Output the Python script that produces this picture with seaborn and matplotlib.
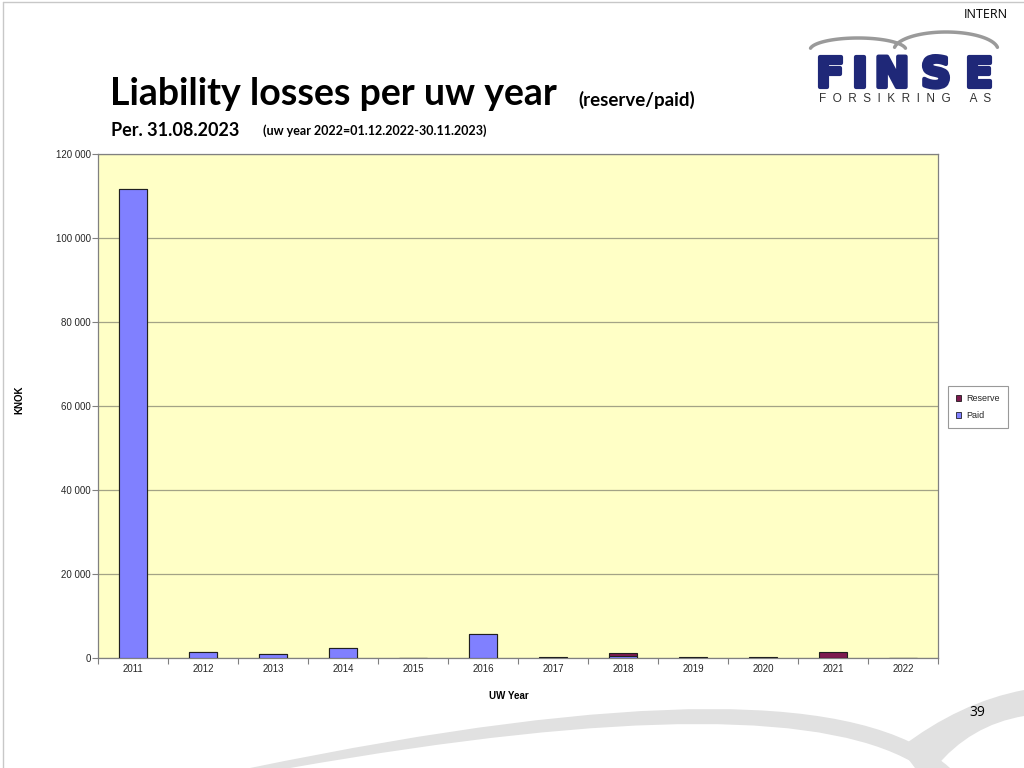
import numpy as np
import pandas as pd
import seaborn as sns
import matplotlib.pyplot as plt
import matplotlib.patheffects as pe
from matplotlib.patches import Patch, PathPatch
from matplotlib.path import Path
from matplotlib.ticker import FuncFormatter, MultipleLocator

# Data (KNOK)
years = ["2011", "2012", "2013", "2014", "2015", "2016",
         "2017", "2018", "2019", "2020", "2021", "2022"]
paid = [111700, 1400, 900, 2400, 100, 5700, 100, 500, 0, 0, 0, 0]
reserve = [0, 0, 0, 0, 0, 0, 150, 700, 300, 150, 1450, 100]

df = pd.DataFrame({"year": years, "paid": paid, "reserve": reserve})
df["total"] = df["paid"] + df["reserve"]

sns.set_theme(style="white")
plt.rcParams["font.family"] = ["Liberation Sans", "DejaVu Sans"]

W, H = 1024, 768
fig = plt.figure(figsize=(10.24, 7.68), dpi=100)


def fx(px):
    return px / W


def fy(py):
    return 1 - py / H


# decorative background swooshes (pixel coords converted to figure coords)
def swoosh(verts, codes):
    p = Path([(fx(a), fy(b)) for a, b in verts], codes)
    fig.add_artist(PathPatch(p, transform=fig.transFigure, facecolor="#E1E1E1",
                             edgecolor="none", zorder=0))


C3, L, M, CL = Path.CURVE3, Path.LINETO, Path.MOVETO, Path.CLOSEPOLY
swoosh([(250, 768), (820, 650), (950, 768), (922, 768), (790, 680), (290, 768), (250, 768)],
       [M, C3, C3, L, C3, C3, CL])
swoosh([(900, 748), (960, 702), (1024, 690), (1024, 716), (970, 725), (935, 768), (915, 768)],
       [M, C3, C3, L, C3, C3, L])

ax = fig.add_axes([fx(98), fy(658), fx(938) - fx(98), fy(154) - fy(658)])
ax.set_facecolor("#FFFFC6")

paid_col = "#8080FF"
res_col = "#7D1A4F"

# stacked: total in reserve colour, paid drawn over it
sns.barplot(data=df, x="year", y="total", color=res_col, width=0.4,
            edgecolor="#202020", linewidth=0.8, saturation=1, ax=ax, zorder=3)
sns.barplot(data=df, x="year", y="paid", color=paid_col, width=0.4,
            edgecolor="#202020", linewidth=0.8, saturation=1, ax=ax, zorder=4)

ax.set_ylim(0, 120000)
ax.set_xlim(-0.5, len(years) - 0.5)
ax.yaxis.set_major_locator(MultipleLocator(20000))
ax.yaxis.set_major_formatter(FuncFormatter(lambda v, p: f"{int(v):,}".replace(",", " ")))
ax.grid(axis="y", color="#A3A386", linewidth=0.9, zorder=0)
ax.set_axisbelow(True)

for s in ax.spines.values():
    s.set_color("#808080")
    s.set_linewidth(0.9)

ax.tick_params(axis="y", left=True, length=4, width=0.8, color="#808080",
               labelsize=7, pad=1)
ax.tick_params(axis="x", bottom=True, length=0, labelsize=7, pad=4)
ax.set_xticks(np.arange(-0.5, len(years), 1), minor=True)
ax.tick_params(axis="x", which="minor", bottom=True, length=4, width=0.8,
               color="#808080")

ax.set_xlabel("")
ax.set_ylabel("")
fig.text(fx(509), fy(696), "UW Year", ha="center", va="center", fontsize=7,
         fontweight="bold", color="black")
fig.text(fx(19), fy(400), "KNOK", ha="center", va="center", fontsize=7,
         fontweight="bold", rotation=90, color="black")

# legend outside on the right
handles = [Patch(facecolor=res_col, edgecolor="black", linewidth=0.5, label="Reserve"),
           Patch(facecolor=paid_col, edgecolor="black", linewidth=0.5, label="Paid")]
leg = fig.legend(handles=handles, loc="center", bbox_to_anchor=(fx(978), fy(407)),
                 fontsize=6.5, frameon=True, fancybox=False, handlelength=0.6,
                 handleheight=0.6, labelspacing=0.9, borderpad=0.55,
                 handletextpad=0.6, edgecolor="#808080")
leg.get_frame().set_linewidth(0.8)
leg.get_frame().set_boxstyle("square", pad=0.35)

# titles
tfont = ["Lato", "DejaVu Sans"]
fig.text(fx(110), fy(94), "Liability losses per uw year", fontsize=27,
         fontweight="bold", family=tfont, va="center", color="black")
fig.text(fx(578), fy(100), "(reserve/paid)", fontsize=13.5, fontweight="bold",
         family=tfont, va="center", color="black")
fig.text(fx(111), fy(131), "Per. 31.08.2023", fontsize=13, fontweight="bold",
         family=tfont, va="center", color="black")
fig.text(fx(263), fy(131), "(uw year 2022=01.12.2022-30.11.2023)", fontsize=9,
         fontweight="bold", family=tfont, va="center", color="black")
fig.text(fx(1008), fy(14), "INTERN", fontsize=9, ha="right", va="center",
         family=["Open Sans", "DejaVu Sans"], color="black")
fig.text(fx(985), fy(712), "39", fontsize=10, ha="right", va="center",
         family=["Open Sans", "DejaVu Sans"], color="black")

# logo
navy = "#1F2878"
for letter, xc in zip("FINSE", [830, 860, 892, 936, 979]):
    fig.text(fx(xc), fy(87), letter, fontsize=30, fontweight="black", color=navy,
             ha="center", va="baseline", family=["DejaVu Sans"],
             path_effects=[pe.withStroke(linewidth=3, foreground=navy)])
fig.text(fx(905), fy(99), "F  O  R  S  I  K  R  I  N  G      A  S", fontsize=8.5,
         color="#333333", ha="center", va="center")
t = np.linspace(0.15, np.pi - 0.15, 50)
fig.add_artist(plt.Line2D(fx(858 - 48 * np.cos(t)), fy(50 - 12 * np.sin(t)),
                          color="#9A9A9A", lw=2.5, transform=fig.transFigure))
fig.add_artist(plt.Line2D(fx(946 - 52 * np.cos(t)), fy(50 - 18 * np.sin(t)),
                          color="#9A9A9A", lw=2.5, transform=fig.transFigure))

# slide frame lines
fig.add_artist(plt.Line2D([fx(3), fx(3)], [0, fy(2)], color="#C8C8C8", lw=1,
                          transform=fig.transFigure))
fig.add_artist(plt.Line2D([fx(3), 1], [fy(2), fy(2)], color="#C8C8C8", lw=1,
                          transform=fig.transFigure))

fig.savefig("out.png", dpi=100)
